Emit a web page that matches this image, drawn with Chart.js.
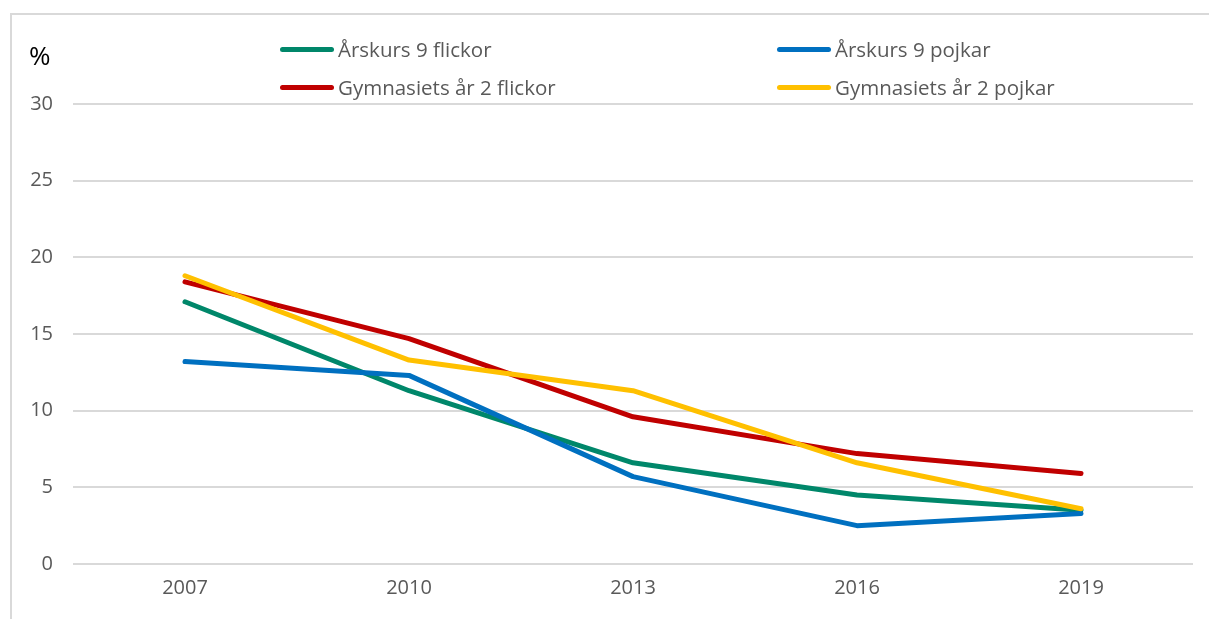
<!DOCTYPE html>
<html>
<head>
<meta charset="utf-8">
<script src="https://cdn.jsdelivr.net/npm/chart.js@4"></script>
<style>
  html, body { margin: 0; padding: 0; background: #fff; }
  #wrap { position: relative; width: 1209px; height: 619px; overflow: hidden; }
  #frame { position: absolute; left: 10px; top: 13px; width: 1300px; height: 700px;
           border-left: 2px solid #d9d9d9; border-top: 2px solid #d9d9d9; }
  #pct { position: absolute; left: 29px; top: 40px; font: 26px "Open Sans", sans-serif; color: #000; line-height: 1.2; }
  .leg { position: absolute; display: flex; align-items: center;
         font: 20.5px "Open Sans", sans-serif; color: #595959; white-space: nowrap; }
  .leg span.ln { display: inline-block; width: 54px; height: 5px; border-radius: 3px; margin-right: 4px; }
  canvas { position: absolute; left: 0; top: 0; }
</style>
</head>
<body>
<div id="wrap">
  <div id="frame"></div>
  <canvas id="chart" width="1209" height="619"></canvas>
  <div id="pct">%</div>
  <div id="legend"></div>
</div>
<script>
// Data
const years = ['2007', '2010', '2013', '2016', '2019'];
const ak9Flickor = [17.1, 11.3, 6.6, 4.5, 3.5];
const ak9Pojkar = [13.2, 12.3, 5.7, 2.5, 3.3];
const gy2Flickor = [18.4, 14.7, 9.6, 7.2, 5.9];
const gy2Pojkar = [18.8, 13.3, 11.3, 6.6, 3.6];

const seriesNames = ['Årskurs 9 flickor', 'Årskurs 9 pojkar', 'Gymnasiets år 2 flickor', 'Gymnasiets år 2 pojkar'];
const seriesColors = ['#00876a', '#0070c0', '#c00000', '#ffc000'];
const seriesValues = [ak9Flickor, ak9Pojkar, gy2Flickor, gy2Pojkar];

// legend positions in the picture (two columns, two rows)
const legendSpots = [[280, 35], [777, 35], [280, 73], [777, 73]];

const datasets = seriesNames.map((name, i) => ({
  label: name,
  data: seriesValues[i],
  borderColor: seriesColors[i],
  backgroundColor: seriesColors[i],
  borderWidth: 5,
  pointRadius: 0,
  tension: 0,
  borderCapStyle: 'round',
  borderJoinStyle: 'round',
  order: 4 - i  // yellow drawn on top
}));

const legendEl = document.getElementById('legend');
seriesNames.forEach((name, i) => {
  const d = document.createElement('div');
  d.className = 'leg';
  d.style.left = legendSpots[i][0] + 'px';
  d.style.top = legendSpots[i][1] + 'px';
  d.innerHTML = '<span class="ln" style="background:' + seriesColors[i] + '"></span>' + name;
  legendEl.appendChild(d);
});

const ctx = document.getElementById('chart').getContext('2d');
new Chart(ctx, {
  type: 'line',
  data: { labels: years, datasets: datasets },
  options: {
    responsive: false,
    animation: false,
    layout: { padding: { top: 104, right: 16, left: 0, bottom: 0 } },
    plugins: { legend: { display: false }, tooltip: { enabled: false } },
    scales: {
      x: {
        offset: true,
        grid: { display: false, drawTicks: false },
        border: { display: false },
        ticks: { color: '#595959', font: { family: 'Open Sans', size: 20 }, padding: 12 },
        afterFit: s => { s.height = 619 - 564; }
      },
      y: {
        min: 0,
        max: 30,
        ticks: { stepSize: 5, color: '#595959', font: { family: 'Open Sans', size: 20 }, padding: 20 },
        grid: { color: '#d9d9d9', lineWidth: 2, drawTicks: false },
        border: { display: false },
        afterFit: s => { s.width = 73; }
      }
    }
  }
});
</script>
</body>
</html>
